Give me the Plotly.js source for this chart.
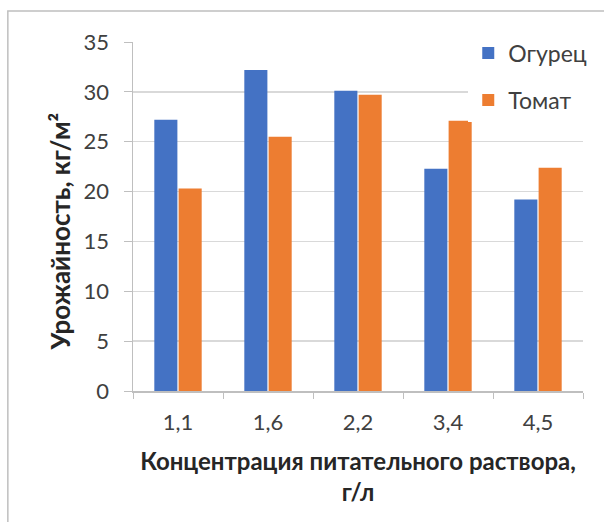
<!DOCTYPE html>
<html>
<head>
<meta charset="utf-8">
<script src="https://cdn.plot.ly/plotly-3.0.1.min.js"></script>
<style>
  html, body { margin: 0; padding: 0; background: #ffffff; }
  #chart { width: 604px; height: 522px; }
</style>
</head>
<body>
<div id="chart"></div>
<script>
// Data
const categories = ["1,1", "1,6", "2,2", "3,4", "4,5"];
const cucumber = [27.2, 32.2, 30.1, 22.3, 19.2];   // Огурец
const tomato = [20.3, 25.5, 29.7, 27.1, 22.4];     // Томат
const seriesNames = ["Огурец", "Томат"];
const yTicks = [0, 5, 10, 15, 20, 25, 30, 35];
const yTitle = "Урожайность, кг/м²";
const xTitle = "Концентрация питательного раствора,<br>г/л";

const FONT = "Lato, 'Open Sans', 'Liberation Sans', sans-serif";

const traces = [
  {
    type: "bar",
    name: seriesNames[0],
    x: categories,
    y: cucumber,
    marker: { color: "#4472C4" },
    legendgroup: "a",
    hoverinfo: "x+y"
  },
  {
    type: "bar",
    name: seriesNames[1],
    x: categories,
    y: tomato,
    marker: { color: "#ED7D31" },
    legendgroup: "b",
    hoverinfo: "x+y"
  }
];

const layout = {
  width: 604,
  height: 522,
  margin: { l: 133, r: 18, t: 42, b: 131 },
  paper_bgcolor: "#ffffff",
  plot_bgcolor: "#ffffff",
  font: { family: FONT, color: "#404040", size: 22 },
  barmode: "group",
  bargap: 0.46,
  bargroupgap: 0.05,
  showlegend: true,
  legend: {
    x: 0.745,
    y: 1.03,
    xanchor: "left",
    yanchor: "top",
    bgcolor: "#ffffff",
    borderwidth: 0,
    font: { family: FONT, size: 23, color: "#404040" },
    tracegroupgap: 14,
    traceorder: "grouped"
  },
  xaxis: {
    type: "category",
    showline: true,
    linecolor: "#bfbfbf",
    linewidth: 1.5,
    ticks: "outside",
    tickson: "boundaries",
    ticklen: 6,
    tickcolor: "#bfbfbf",
    showgrid: false,
    ticklabelstandoff: 11,
    tickfont: { family: FONT, size: 22, color: "#404040" },
    title: {
      text: "<b>" + xTitle + "</b>",
      font: { family: FONT, size: 24, color: "#262626" },
      standoff: 19
    },
    automargin: false
  },
  yaxis: {
    range: [0, 35],
    tickvals: yTicks,
    showline: true,
    linecolor: "#bfbfbf",
    linewidth: 1.5,
    ticks: "outside",
    ticklen: 8,
    tickcolor: "#bfbfbf",
    showgrid: true,
    gridcolor: "#d9d9d9",
    gridwidth: 1.5,
    zeroline: false,
    ticklabelstandoff: 10,
    tickfont: { family: FONT, size: 22, color: "#404040" },
    automargin: false
  },
  annotations: [
    {
      text: "<b>" + yTitle + "</b>",
      xref: "paper",
      yref: "paper",
      x: (60 - 133) / 453,
      y: (391 - 231) / 349,
      xanchor: "center",
      yanchor: "middle",
      textangle: -90,
      showarrow: false,
      font: { family: FONT, size: 26, color: "#262626" }
    }
  ],
  shapes: [
    {
      type: "rect",
      xref: "paper",
      yref: "paper",
      x0: (7 - 133) / 453,
      x1: (640 - 133) / 453,
      y0: (391 - 560) / 349,
      y1: (391 - 11) / 349,
      line: { color: "#bfbfbf", width: 1.5 },
      fillcolor: "rgba(0,0,0,0)",
      layer: "above"
    }
  ]
};

Plotly.newPlot("chart", traces, layout, { displayModeBar: false, staticPlot: true });
</script>
</body>
</html>
